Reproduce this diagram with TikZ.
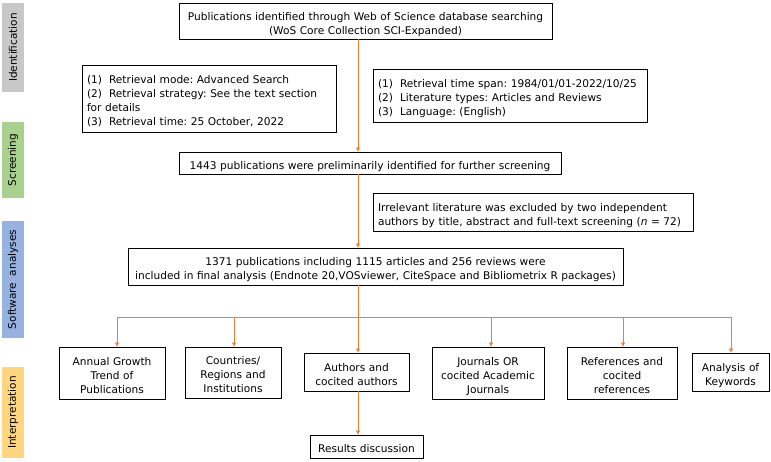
\documentclass[tikz,border=0pt]{standalone}
\usepackage{fontspec}
\setmainfont{DejaVu Sans}
\usetikzlibrary{arrows.meta}
\frenchspacing
\definecolor{arr}{RGB}{237,125,49}
\definecolor{cgrey}{RGB}{200,200,200}
\definecolor{cgreen}{RGB}{169,209,142}
\definecolor{cblue}{RGB}{150,178,224}
\definecolor{corange}{RGB}{255,214,128}
\tikzset{
  box/.style={draw=black, line width=0.9pt, inner sep=0pt, font=\fontsize{10.6}{14}\selectfont\frenchspacing, align=center,
    execute at begin node={\rule{0pt}{15.5pt}}, execute at end node={\rule[-3pt]{0pt}{0pt}}},
  lbox/.style={box, align=left},
  bar/.style={inner sep=0pt, minimum height=22pt, font=\fontsize{10.5}{12}\selectfont, rotate=90},
  conn/.style={draw=arr, line width=0.6pt},
  arrw/.style={conn, -{Triangle[width=4pt,length=4pt]}}
}
\begin{document}
\begin{tikzpicture}[x=1pt,y=-1pt]
\useasboundingbox (0,0) rectangle (771,461);
% side bars
\node[bar, fill=cgrey, minimum width=89pt] (s1) at (13,47.5) {Identification};
\node[bar, fill=cgreen, minimum width=76pt] (s2) at (13,160) {Screening};
\node[bar, fill=cblue, minimum width=117pt] (s3) at (13,279.5) {Software\ \ analyses};
\node[bar, fill=corange, minimum width=91pt] (s4) at (13,412.5) {Interpretation};
% main boxes
\node[box, minimum width=373pt, minimum height=36pt, text width=369pt] (top) at (365.5,21)
  {Publications identified through Web of Science database searching\\(WoS Core Collection SCI-Expanded)};
\node[lbox, minimum width=254pt, minimum height=67pt, text width=244pt] (left) at (209,98.5)
  {(1)\ \ Retrieval mode: Advanced Search\\(2)\ \ Retrieval strategy: See the text section\\for details\\(3)\ \ Retrieval time: 25 October, 2022};
\node[lbox, minimum width=274pt, minimum height=53pt, text width=264pt] (right) at (510,95.5)
  {(1)\ \ Retrieval time span: 1984/01/01-2022/10/25\\(2)\ \ Literature types: Articles and Reviews\\(3)\ \ Language: (English)};
\node[box, minimum width=382pt, minimum height=22pt, text width=378pt] (scr) at (370,163)
  {1443 publications were preliminarily identified for further screening};
\node[lbox, minimum width=320pt, minimum height=38pt, text width=310pt] (irr) at (533,212)
  {Irrelevant literature was excluded by two independent\\authors by title, abstract and full-text screening (\textit{n} = 72)};
\node[box, minimum width=495pt, minimum height=37pt, text width=491pt] (inc) at (375.5,266.5)
  {1371 publications including 1115 articles and 256 reviews were\\included in final analysis (Endnote 20,VOSviewer, CiteSpace and Bibliometrix R packages)};
% bottom row
\node[box, minimum width=106pt, minimum height=52pt, text width=102pt] (b1) at (112,373) {Annual Growth\\Trend of\\Publications};
\node[box, minimum width=96pt, minimum height=51pt, text width=92pt] (b2) at (233,372.5) {Countries/\\Regions and\\Institutions};
\node[box, minimum width=105pt, minimum height=38pt, text width=101pt] (b3) at (356.5,372) {Authors and\\cocited authors};
\node[box, minimum width=112pt, minimum height=52pt, text width=108pt] (b4) at (488,373) {Journals OR\\cocited Academic\\Journals};
\node[box, minimum width=110pt, minimum height=52pt, text width=106pt] (b5) at (622,373) {References and\\cocited\\references};
\node[box, minimum width=77pt, minimum height=38pt, text width=75pt] (b6) at (730.5,372) {Analysis of\\Keywords};
\node[box, minimum width=113pt, minimum height=23pt, text width=109pt] (res) at (366.5,446.5) {Results discussion};
% connectors
\coordinate (sp) at (358,0);
\coordinate (hl) at (0,317);
\coordinate (x1) at (117,0);
\coordinate (x2) at (234,0);
\coordinate (x4) at (491,0);
\coordinate (x5) at (623,0);
\coordinate (x6) at (731,0);
\draw[arrw] (top.south -| sp) -- (scr.north -| sp);
\draw[arrw] (scr.south -| sp) -- (inc.north -| sp);
\draw[arrw] (inc.south -| sp) -- (b3.north -| sp);
\draw[conn] (hl -| x1) -- (hl -| x6);
\draw[arrw] (hl -| x1) -- (b1.north -| x1);
\draw[arrw] (hl -| x2) -- (b2.north -| x2);
\draw[arrw] (hl -| x4) -- (b4.north -| x4);
\draw[arrw] (hl -| x5) -- (b5.north -| x5);
\draw[arrw] (hl -| x6) -- (b6.north -| x6);
\draw[arrw] (b3.south -| sp) -- (res.north -| sp);
\end{tikzpicture}
\end{document}
